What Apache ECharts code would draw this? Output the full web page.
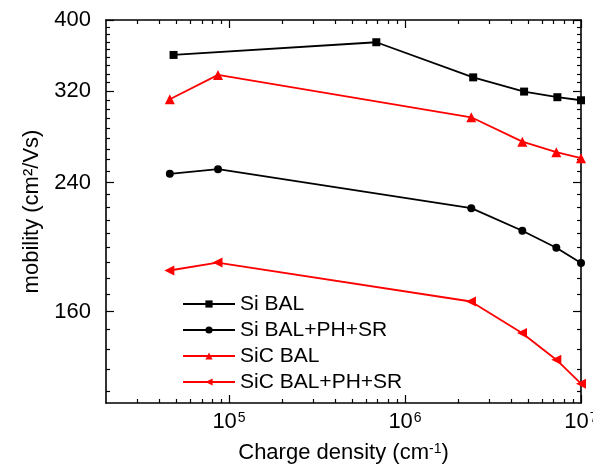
<!DOCTYPE html>
<html>
<head>
<meta charset="utf-8">
<script src="https://cdn.jsdelivr.net/npm/echarts@6/dist/echarts.min.js"></script>
<style>
html,body{margin:0;padding:0;background:#fff;overflow:hidden;width:593px;height:464px;}
#c{width:620px;height:490px;}
</style>
</head>
<body>
<div id="c"></div>
<script>
// ---- data ----
const seriesNames = ['Si BAL', 'Si BAL+PH+SR', 'SiC BAL', 'SiC BAL+PH+SR'];
const siBalX = [4.84e4, 6.87e5, 2.44e6, 4.75e6, 7.34e6, 1.0e7];
const siBalY = [358.4, 373.0, 334.0, 319.4, 313.8, 310.8];
const siBalPhSrX = [4.61e4, 8.66e4, 2.38e6, 4.64e6, 7.24e6, 1.0e7];
const siBalPhSrY = [246.6, 250.3, 221.4, 206.2, 195.5, 186.3];
const sicBalX = [4.61e4, 8.66e4, 2.38e6, 4.64e6, 7.24e6, 1.0e7];
const sicBalY = [311.8, 336.6, 294.6, 272.9, 264.0, 259.1];
const sicBalPhSrX = [4.58e4, 8.6e4, 2.37e6, 4.62e6, 7.24e6, 1.0e7];
const sicBalPhSrY = [182.0, 186.6, 165.1, 149.5, 137.5, 127.5];

const xTickExps = [5, 6, 7];
const xMinorTicks = [3e4,4e4,5e4,6e4,7e4,8e4,9e4,
                     2e5,3e5,4e5,5e5,6e5,7e5,8e5,9e5,
                     2e6,3e6,4e6,5e6,6e6,7e6,8e6,9e6];
const yTicks = [160, 240, 320, 400];
const yMinorTicks = [391.1,382.2,373.3,364.4,355.6,346.7,337.8,328.9,
                     311.1,302.2,293.3,284.4,275.6,266.7,257.8,248.9,
                     231.1,222.2,213.3,204.4,195.6,186.7,177.8,168.9,
                     151.1,142.2,133.3,124.4];
const xMin = 2e4, xMax = 1e7, yMin = 120, yMax = 400;

// ---- chart ----
const FONT = '"Liberation Sans", Arial, sans-serif';
const xMajors = xTickExps.map(e => Math.pow(10, e));
const pair = (xs, ys) => xs.map((x, i) => [x, ys[i]]);

function xAxisDef(pos, major, main) {
  const lbl = (pos === 'bottom' && major);
  return {
    type: 'log', min: xMin, max: xMax, position: pos,
    axisLine: { show: main, lineStyle: { color: '#000', width: 1.6 } },
    axisTick: { show: true, inside: false, length: major ? -8 : -4,
      customValues: major ? xMajors : xMinorTicks,
      lineStyle: { color: '#000', width: 1.2 } },
    splitLine: { show: false },
    axisLabel: lbl ? {
      show: true, customValues: xMajors, margin: 8,
      formatter: v => '{b|10}{s|' + Math.round(Math.log10(v)) + '}',
      rich: {
        b: { fontSize: 22, fontFamily: FONT, color: '#000', verticalAlign: 'top', lineHeight: 26 },
        s: { fontSize: 14, fontFamily: FONT, color: '#000', verticalAlign: 'top', lineHeight: 26, padding: [0, 0, 0, 1] }
      }
    } : { show: false },
    name: lbl ? 'Charge density (cm{s|-1})' : null,
    nameLocation: 'middle', nameGap: 39,
    nameTextStyle: {
      fontSize: 22, fontFamily: FONT, color: '#000',
      rich: { s: { fontSize: 14, fontFamily: FONT, color: '#000', verticalAlign: 'top', lineHeight: 22 } }
    }
  };
}
function yAxisDef(pos, major, main) {
  const lbl = (pos === 'left' && major);
  return {
    type: 'log', min: yMin, max: yMax, position: pos,
    axisLine: { show: main, lineStyle: { color: '#000', width: 1.6 } },
    axisTick: { show: true, inside: false, length: major ? -8 : -4,
      customValues: major ? yTicks : yMinorTicks,
      lineStyle: { color: '#000', width: 1.2 } },
    splitLine: { show: false },
    axisLabel: lbl ? {
      show: true, customValues: yTicks, margin: 15,
      fontSize: 22, fontFamily: FONT, color: '#000',
      formatter: v => String(Math.round(v))
    } : { show: false },
    name: lbl ? 'mobility (cm²/Vs)' : null,
    nameLocation: 'middle', nameGap: 44,
    nameTextStyle: { fontSize: 22, fontFamily: FONT, color: '#000' }
  };
}

const chart = echarts.init(document.getElementById('c'));
const mk = (name, data, color, symbol, size, rot) => ({
  name, type: 'line', data, xAxisIndex: 0, yAxisIndex: 0,
  symbol, symbolSize: size, symbolRotate: rot || 0, showAllSymbol: true,
  lineStyle: { color, width: 1.8 },
  itemStyle: { color, borderWidth: 0 },
  emphasis: { disabled: true }, z: 5
});

chart.setOption({
  animation: false,
  backgroundColor: '#fff',
  grid: { left: 106, right: 39, top: 20, bottom: 87 },
  xAxis: [xAxisDef('bottom', true, true), xAxisDef('bottom', false, false),
          xAxisDef('top', true, true), xAxisDef('top', false, false)],
  yAxis: [yAxisDef('left', true, true), yAxisDef('left', false, false),
          yAxisDef('right', true, true), yAxisDef('right', false, false)],
  legend: {
    data: seriesNames, orient: 'vertical', left: 177, top: 288,
    itemWidth: 52, itemHeight: 9, itemGap: 4,
    textStyle: { fontSize: 21, fontFamily: FONT, color: '#000', lineHeight: 22 },
    selectedMode: false
  },
  series: [
    mk(seriesNames[0], pair(siBalX, siBalY), '#000', 'rect', 8),
    mk(seriesNames[1], pair(siBalPhSrX, siBalPhSrY), '#000', 'circle', 8),
    mk(seriesNames[2], pair(sicBalX, sicBalY), '#ff0000', 'triangle', 10),
    mk(seriesNames[3], pair(sicBalPhSrX, sicBalPhSrY), '#ff0000', 'triangle', 10, 90)
  ]
});
</script>
</body>
</html>
